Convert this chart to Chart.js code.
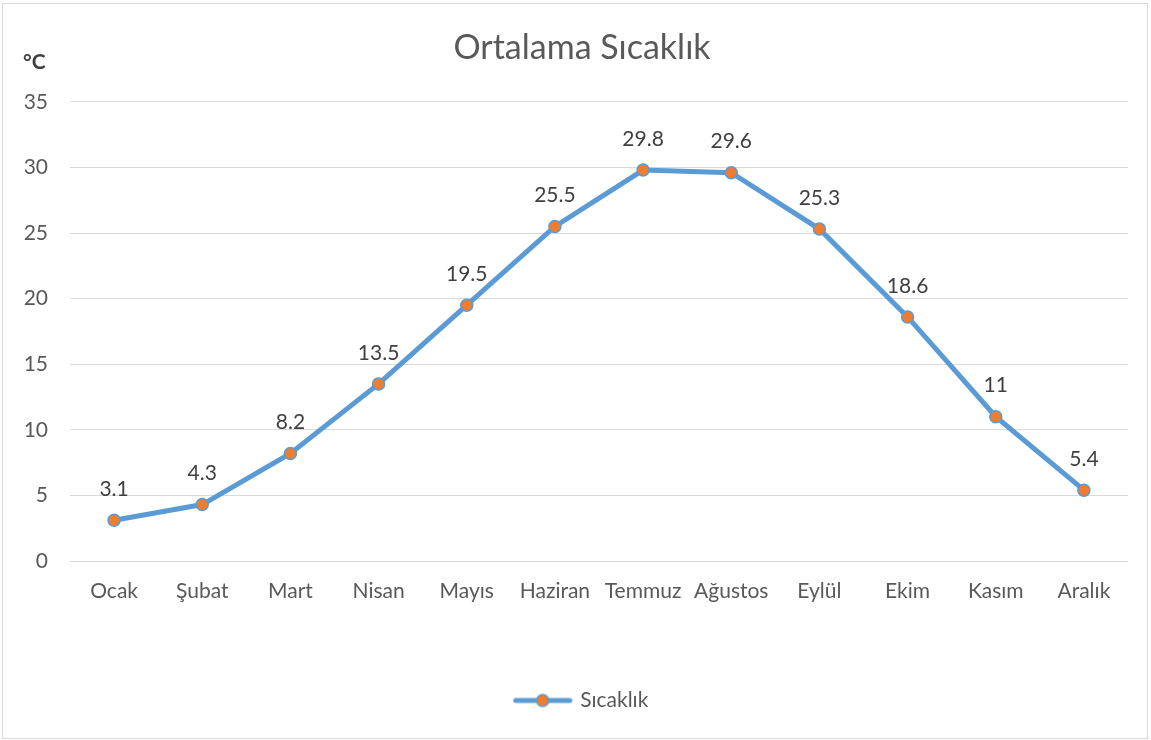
<!DOCTYPE html>
<html lang="tr">
<head>
  <meta charset="UTF-8">
  <title>Ortalama Sıcaklık</title>
  <script src="https://cdn.jsdelivr.net/npm/chart.js"></script>
  <style>
    body { margin: 0; background: #fff; font-family: Lato, sans-serif; }
    #chart-container { position: absolute; left: 0; top: 0; width: 1151px; height: 740px; }
    #frame { position: absolute; left: 2px; top: 3px; width: 1144px; height: 734px; border: 1px solid #d9d9d9; pointer-events: none; }
  </style>
</head>
<body>
  <div id="chart-container">
    <canvas id="tempChart"></canvas>
  </div>
  <div id="frame"></div>

  <script>
    const months = ['Ocak', 'Şubat', 'Mart', 'Nisan', 'Mayıs', 'Haziran', 'Temmuz', 'Ağustos', 'Eylül', 'Ekim', 'Kasım', 'Aralık'];
    const temps = [3.1, 4.3, 8.2, 13.5, 19.5, 25.5, 29.8, 29.6, 25.3, 18.6, 11, 5.4];
    const yTicks = [0, 5, 10, 15, 20, 25, 30, 35];

    const FONT = 'Lato, sans-serif';
    const BLUE = '#5B9BD5';
    const ORANGE = '#ED7D31';

    // legend marker: line with a dot, like the Office style
    const marker = document.createElement('canvas');
    marker.width = 60; marker.height = 16;
    const mc = marker.getContext('2d');
    mc.strokeStyle = BLUE; mc.lineWidth = 5; mc.lineCap = 'round';
    mc.beginPath(); mc.moveTo(3, 8); mc.lineTo(57, 8); mc.stroke();
    mc.beginPath(); mc.arc(30, 8, 6, 0, Math.PI * 2);
    mc.fillStyle = ORANGE; mc.fill();
    mc.lineWidth = 1.5; mc.strokeStyle = BLUE; mc.stroke();

    // values written above each point
    const valueLabels = {
      id: 'valueLabels',
      afterDatasetsDraw(chart) {
        const ctx = chart.ctx;
        const meta = chart.getDatasetMeta(0);
        ctx.save();
        ctx.font = '21px ' + FONT;
        ctx.fillStyle = '#404040';
        ctx.textAlign = 'center';
        ctx.textBaseline = 'middle';
        meta.data.forEach((pt, i) => {
          ctx.fillText(String(temps[i]), pt.x, pt.y - 31);
        });
        ctx.restore();
      }
    };

    // unit label top left
    const unitLabel = {
      id: 'unitLabel',
      afterDraw(chart) {
        const ctx = chart.ctx;
        ctx.save();
        ctx.font = 'bold 21px ' + FONT;
        ctx.fillStyle = '#404040';
        ctx.textAlign = 'left';
        ctx.textBaseline = 'middle';
        ctx.fillText('°C', 23, 62);
        ctx.restore();
      }
    };

    const ctx = document.getElementById('tempChart').getContext('2d');
    new Chart(ctx, {
      type: 'line',
      data: {
        labels: months,
        datasets: [{
          label: 'Sıcaklık',
          data: temps,
          borderColor: BLUE,
          borderWidth: 5,
          pointRadius: 6,
          pointBackgroundColor: ORANGE,
          pointBorderColor: BLUE,
          pointBorderWidth: 1.5,
          tension: 0
        }]
      },
      options: {
        responsive: true,
        maintainAspectRatio: false,
        animation: false,
        layout: { padding: { top: 0, left: 20, right: 7, bottom: 19 } },
        plugins: {
          title: {
            display: true,
            text: 'Ortalama Sıcaklık',
            color: '#595959',
            font: { family: FONT, size: 34, weight: 'normal' },
            padding: { top: 28, bottom: 33 }
          },
          legend: {
            position: 'bottom',
            labels: {
              usePointStyle: true,
              pointStyle: marker,
              pointStyleWidth: 54,
              color: '#595959',
              font: { family: FONT, size: 21 },
              padding: 10
            }
          },
          tooltip: { enabled: false }
        },
        scales: {
          x: {
            offset: true,
            grid: { display: false, drawTicks: false, offset: true },
            border: { display: false },
            ticks: { color: '#595959', font: { family: FONT, size: 21 }, padding: 18 },
            afterFit(s) { s.height = 119; }
          },
          y: {
            min: 0,
            max: 35,
            grid: { color: '#d9d9d9', lineWidth: 1, drawTicks: false },
            border: { display: false },
            ticks: {
              color: '#595959',
              font: { family: FONT, size: 21 },
              padding: 22,
              stepSize: 5,
              callback: (v) => yTicks.includes(v) ? v : null
            },
            afterFit(s) { s.width = 50; }
          },
          // empty right-hand spacer so the title and legend sit where the original has them
          spacer: {
            type: 'linear',
            position: 'right',
            grid: { display: false, drawTicks: false },
            border: { display: false },
            ticks: { display: false },
            afterFit(s) { s.width = 16; }
          }
        }
      },
      plugins: [valueLabels, unitLabel]
    });
  </script>
</body>
</html>
